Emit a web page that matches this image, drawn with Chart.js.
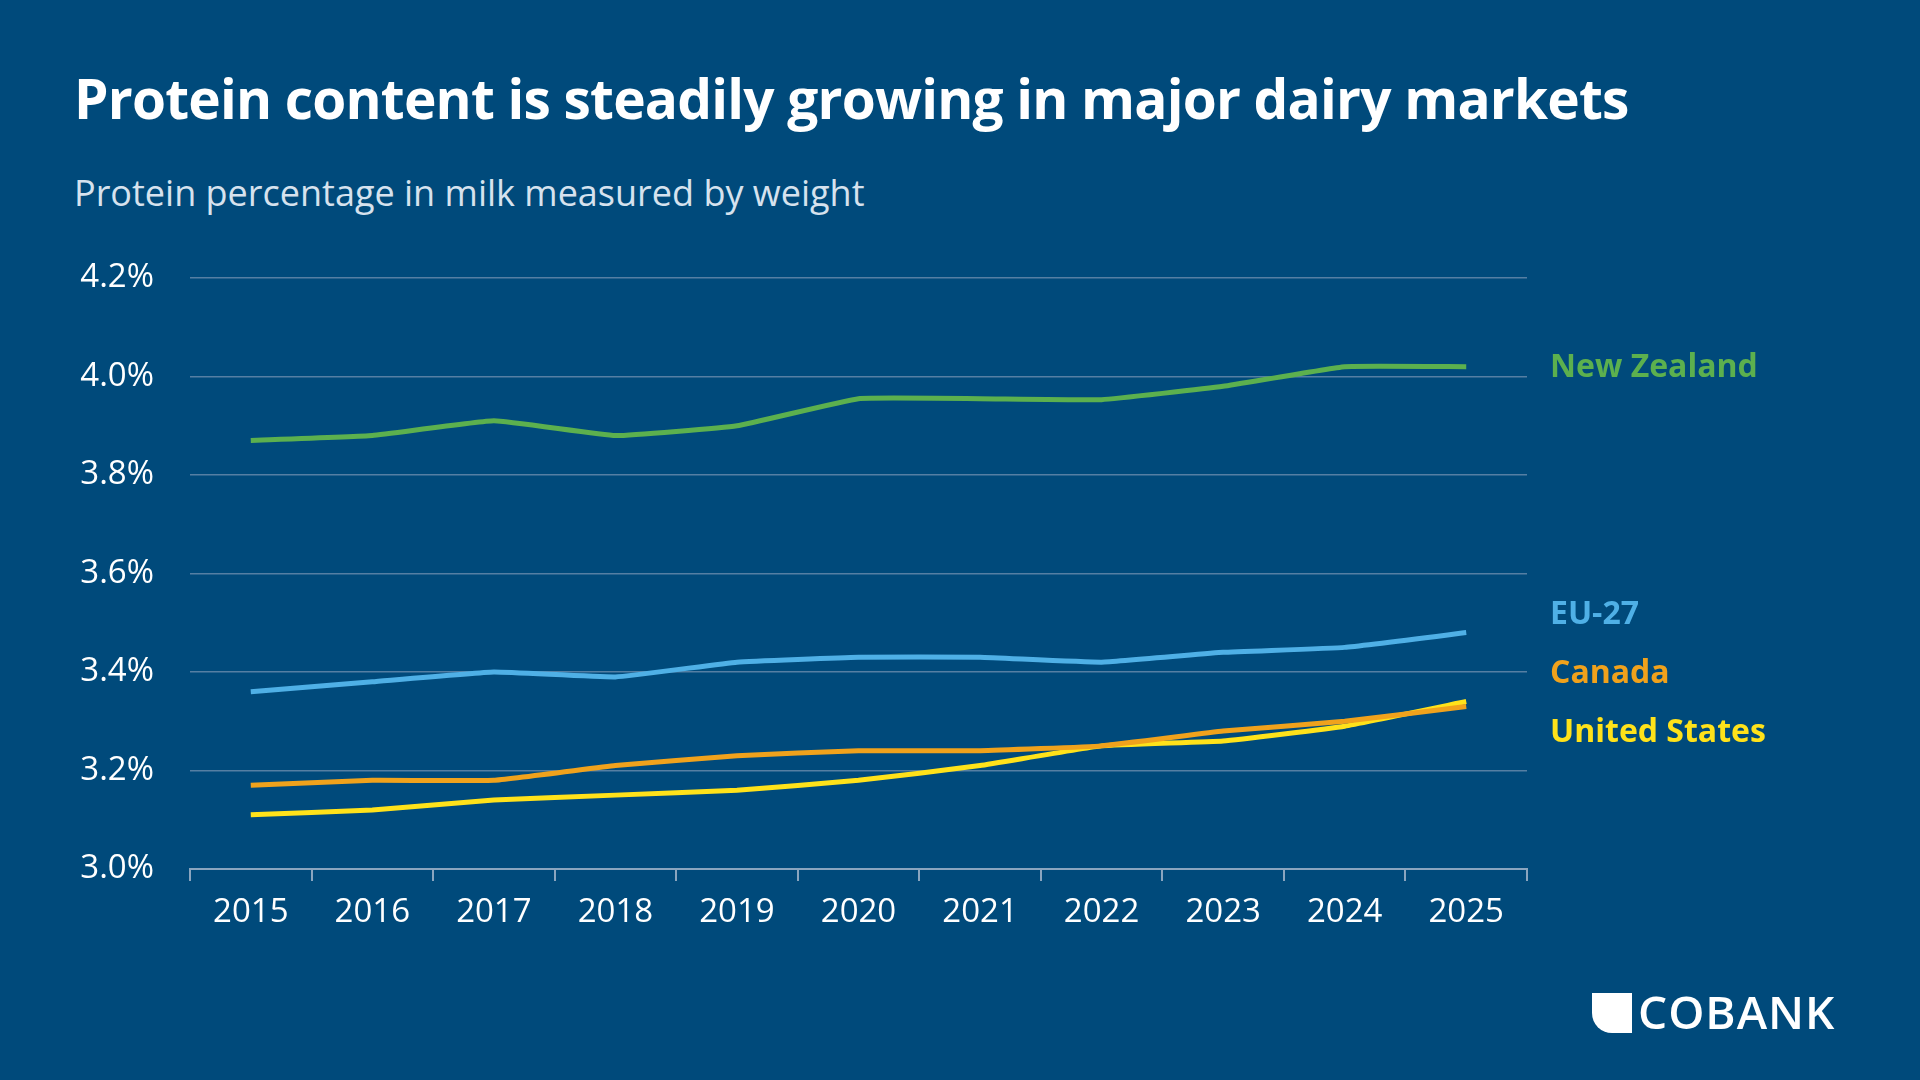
<!DOCTYPE html>
<html>
<head>
<meta charset="utf-8">
<script src="https://cdn.jsdelivr.net/npm/chart.js@4.4.1/dist/chart.umd.min.js"></script>
<style>
  body { margin: 0; width: 1920px; height: 1080px; background: #004a7b; overflow: hidden; font-family: "Open Sans", sans-serif; position: relative; }
  #chart { position: absolute; left: 0; top: 0; }
  .title { position: absolute; left: 74px; top: 60px; color: #fff; font-size: 55px; font-weight: 700; letter-spacing: -0.8px; }
  .sub { position: absolute; left: 74px; top: 168px; color: #d6e2ee; font-size: 36px; }
  .lbl { position: absolute; left: 1550px; font-size: 32px; font-weight: 700; }
  .logo { position: absolute; left: 1592px; top: 980px; color: #fff; font-size: 46px; font-weight: 600; letter-spacing: 1px; }
  .logo span { display: inline-block; width: 40px; height: 40px; background: #fff; border-radius: 0 0 0 20px; margin-right: 6px; vertical-align: -4px; }
</style>
</head>
<body>
<div class="title">Protein content is steadily growing in major dairy markets</div>
<div class="sub">Protein percentage in milk measured by weight</div>
<canvas id="chart" width="1920" height="1080"></canvas>
<div class="lbl" style="top:343px;color:#5cb04e">New Zealand</div>
<div class="lbl" style="top:590px;color:#4fb0e6">EU-27</div>
<div class="lbl" style="top:649px;color:#f0a21c">Canada</div>
<div class="lbl" style="top:708px;color:#ffe21a">United States</div>
<div class="logo"><span></span>COBANK</div>
<script>
const years = ['2015','2016','2017','2018','2019','2020','2021','2022','2023','2024','2025'];
const newZealand = [3.87, 3.88, 3.91, 3.88, 3.90, 3.955, 3.955, 3.953, 3.98, 4.02, 4.02];
const eu27 = [3.36, 3.38, 3.40, 3.39, 3.42, 3.43, 3.43, 3.42, 3.44, 3.45, 3.48];
const canada = [3.17, 3.18, 3.18, 3.21, 3.23, 3.24, 3.24, 3.25, 3.28, 3.30, 3.33];
const unitedStates = [3.11, 3.12, 3.14, 3.15, 3.16, 3.18, 3.21, 3.25, 3.26, 3.29, 3.34];

const tickFont = { family: 'Open Sans', size: 33, weight: '500' };
function line(label, data, color) {
    return { label, data, borderColor: color, borderWidth: 5, pointRadius: 0, tension: 0.1, fill: false };
}

new Chart(document.getElementById('chart'), {
    type: 'line',
    data: {
        labels: years,
        datasets: [
            line('New Zealand', newZealand, '#5cb04e'),
            line('EU-27', eu27, '#4fb0e6'),
            line('Canada', canada, '#f0a21c'),
            line('United States', unitedStates, '#ffe21a')
        ]
    },
    options: {
        responsive: false,
        animation: false,
        layout: { padding: { left: 60, right: 393, top: 278, bottom: 141 } },
        plugins: { legend: { display: false }, tooltip: { enabled: false } },
        scales: {
            x: {
                offset: true,
                afterFit: (a) => { a.height = 70; },
                grid: { offset: true, drawOnChartArea: false, color: '#8aa5bf', tickLength: 12, lineWidth: 2 },
                border: { color: '#8aa5bf', width: 2 },
                ticks: { color: '#fff', font: tickFont, padding: 12 }
            },
            y: {
                min: 3.0, max: 4.2,
                afterFit: (a) => { a.width = 130; },
                grid: { color: '#557fa3', lineWidth: 1.5, drawTicks: false },
                border: { display: false },
                ticks: { stepSize: 0.2, color: '#fff', font: tickFont, padding: 36,
                    callback: (v) => v.toFixed(1) + '%' }
            }
        }
    }
});
</script>
</body>
</html>
